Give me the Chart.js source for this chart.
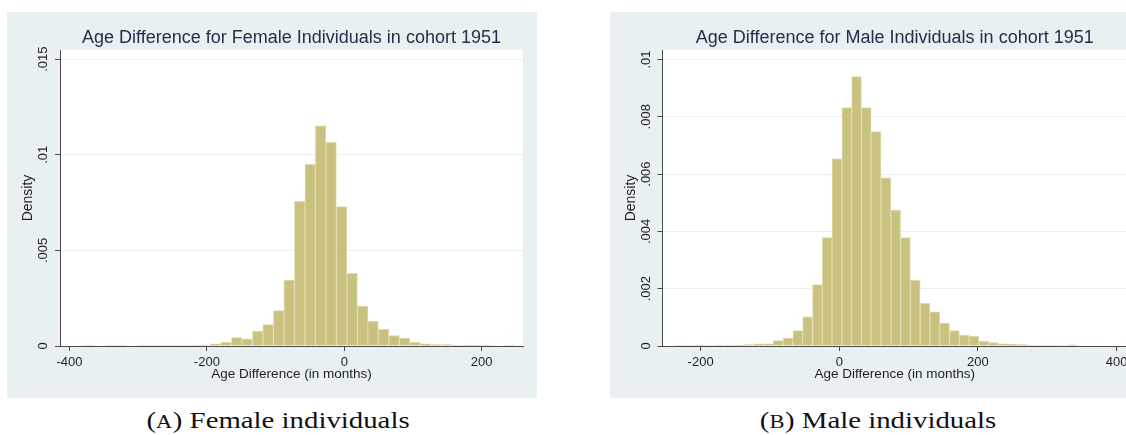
<!DOCTYPE html>
<html>
<head>
<meta charset="utf-8">
<script src="https://cdn.jsdelivr.net/npm/chart.js@4.4.1/dist/chart.umd.min.js"></script>
<style>
  html, body { margin: 0; padding: 0; background: #fff; overflow: hidden; }
  body { width: 1126px; height: 435px; position: relative; }
  .panel { position: absolute; top: 12px; height: 386px; background: #e8f0f2; }
  .caption {
    position: absolute; top: 407px; font-family: "Liberation Serif", serif;
    font-size: 24px; color: #111; white-space: nowrap;
    transform: translateX(-50%) scaleX(1.2);
  }
  .sc { font-size: 0.78em; letter-spacing: 0.5px; }
</style>
</head>
<body>
<div class="panel" style="left:7px;width:530px"><canvas id="femaleChart" width="530" height="386"></canvas></div>
<div class="panel" style="left:610px;width:531px"><canvas id="maleChart" width="531" height="386"></canvas></div>
<div class="caption" style="left:278px">(<span class="sc">A</span>) Female individuals</div>
<div class="caption" style="left:878px">(<span class="sc">B</span>) Male individuals</div>

<script>
// bin centres (months) and densities
const femaleBins = [-401.1, -385.8, -370.5, -355.2, -340.0, -324.7, -309.4, -294.1, -278.9, -263.6,
  -248.3, -233.0, -217.7, -202.4, -187.2, -171.9, -156.6, -141.3, -126.0, -110.8,
  -95.5, -80.2, -64.9, -49.6, -34.4, -19.1, -3.8, 11.5, 26.8, 42.0,
  57.3, 72.6, 87.9, 103.2, 118.4, 133.7, 149.0, 164.3, 179.6, 194.8,
  210.1, 225.4, 240.7, 256.0];
const femaleDensity = [0, 0, 0.00003, 0.00002, 0.00003, 0.00003, 0.00002, 0.00003, 0.00003, 0.00003,
  0.00003, 0.00003, 0.00005, 0.00005, 0.00012, 0.00019, 0.00044, 0.00037, 0.00078, 0.00112,
  0.00185, 0.00345, 0.00757, 0.0095, 0.01152, 0.01065, 0.00729, 0.0038, 0.00207, 0.00129,
  0.00087, 0.00054, 0.00042, 0.00019, 0.00012, 0.00007, 0.00007, 0.00005, 0.00004, 0.00004,
  0.00003, 0.00002, 0.00005, 0.00002];

const maleBins = [-243.4, -229.3, -215.2, -201.2, -186.9, -172.8, -158.7, -144.6, -130.4, -116.3,
  -102.2, -88.1, -74.0, -59.8, -45.7, -31.6, -17.5, -3.4, 10.8, 24.9,
  39.0, 53.1, 67.2, 81.4, 95.5, 109.6, 123.7, 137.9, 152.0, 166.1,
  180.2, 194.3, 208.5, 222.6, 236.7, 250.8, 264.9, 279.0, 293.2, 307.3,
  321.4, 335.5];
const maleDensity = [0, 0.00002, 0.00002, 0.00003, 0.00002, 0.00003, 0.00003, 0.00003, 0.00005, 0.00008,
  0.00008, 0.00019, 0.00028, 0.00054, 0.00102, 0.00214, 0.00378, 0.00653, 0.00832, 0.0094,
  0.00832, 0.00748, 0.00587, 0.00474, 0.00378, 0.00229, 0.00149, 0.00119, 0.0008, 0.00054,
  0.00038, 0.00035, 0.00016, 0.00012, 0.00008, 0.00006, 0.00005, 0.00002, 0.00002, 0.00002,
  0.00001, 0.00004];

const xTickStep = 200;

const FONT = "'Liberation Sans', Arial, sans-serif";
const AXIS = "#4a4a4a";

function stataLabel(v) {
  if (Math.abs(v) < 1e-12) return "0";
  return String(parseFloat(v.toFixed(4))).replace(/^0\./, ".");
}

// white plot region + rotated y labels + axis titles
const stataBits = {
  id: "stataBits",
  beforeDraw(chart) {
    const a = chart.chartArea, ctx = chart.ctx;
    ctx.save();
    ctx.fillStyle = "#ffffff";
    ctx.fillRect(a.left, a.top, a.right - a.left, a.bottom - a.top);
    ctx.restore();
  },
  afterDraw(chart) {
    const a = chart.chartArea, ctx = chart.ctx, y = chart.scales.y;
    ctx.save();
    ctx.fillStyle = "#1e1e1e";
    ctx.textAlign = "center";
    ctx.textBaseline = "middle";
    ctx.font = "13px " + FONT;
    y.ticks.forEach(t => {
      const py = y.getPixelForValue(t.value);
      ctx.save();
      ctx.translate(36, py);
      ctx.rotate(-Math.PI / 2);
      ctx.fillText(stataLabel(t.value), 0, 0);
      ctx.restore();
    });
    ctx.font = "14px " + FONT;
    ctx.save();
    ctx.translate(21, (a.top + a.bottom) / 2);
    ctx.rotate(-Math.PI / 2);
    ctx.fillText("Density", 0, 0);
    ctx.restore();
    ctx.font = "13.5px " + FONT;
    ctx.fillText("Age Difference (in months)", (a.left + a.right) / 2, a.bottom + 28.5);
    ctx.restore();
  }
};

function makeHist(id, title, bins, dens, xmin, xmax, ymax, ystep, yAxisW) {
  new Chart(document.getElementById(id), {
    type: "bar",
    data: {
      datasets: [{
        data: bins.map((b, i) => ({ x: b, y: dens[i] })),
        backgroundColor: "#c8c180",
        borderColor: "#dfdaa8",
        borderWidth: { top: 1, left: 1, right: 1, bottom: 0 },
        borderSkipped: "bottom",
        barPercentage: 1,
        categoryPercentage: 1
      }]
    },
    options: {
      responsive: false,
      animation: false,
      layout: { padding: { left: 0, right: 14, top: 0, bottom: 0 } },
      plugins: {
        legend: { display: false },
        tooltip: { enabled: false },
        title: {
          display: true,
          text: title,
          fullSize: false,
          color: "#23304a",
          font: { family: FONT, size: 18, weight: "normal" },
          padding: { top: 15, bottom: 1.4 }
        }
      },
      scales: {
        x: {
          type: "linear",
          z: 1,
          min: xmin,
          max: xmax,
          offset: false,
          afterFit: s => { s.height = 52; },
          ticks: {
            stepSize: xTickStep,
            includeBounds: false,
            color: "#1e1e1e",
            font: { family: FONT, size: 13 },
            padding: 4,
            maxRotation: 0,
            autoSkip: false,
            callback: v => String(v)
          },
          grid: { offset: false, drawOnChartArea: false, drawTicks: true, tickLength: 5, color: AXIS, tickColor: AXIS, tickWidth: 1 },
          border: { display: true, color: AXIS, width: 1 }
        },
        y: {
          min: 0,
          max: ymax,
          ticks: { stepSize: ystep, display: false, includeBounds: false },
          afterFit: s => { s.width = yAxisW; },
          grid: { color: "#e7eff1", lineWidth: 1, tickLength: 5, tickColor: AXIS, tickWidth: 1 },
          border: { display: true, color: AXIS, width: 1 }
        }
      }
    },
    plugins: [stataBits]
  });
}

makeHist("femaleChart", "Age Difference for Female Individuals in cohort 1951",
  femaleBins, femaleDensity, -413.8, 260.2, 0.01548, 0.005, 53);
makeHist("maleChart", "Age Difference for Male Individuals in cohort 1951",
  maleBins, maleDensity, -255, 415, 0.01033, 0.002, 52.5);
</script>
</body>
</html>
